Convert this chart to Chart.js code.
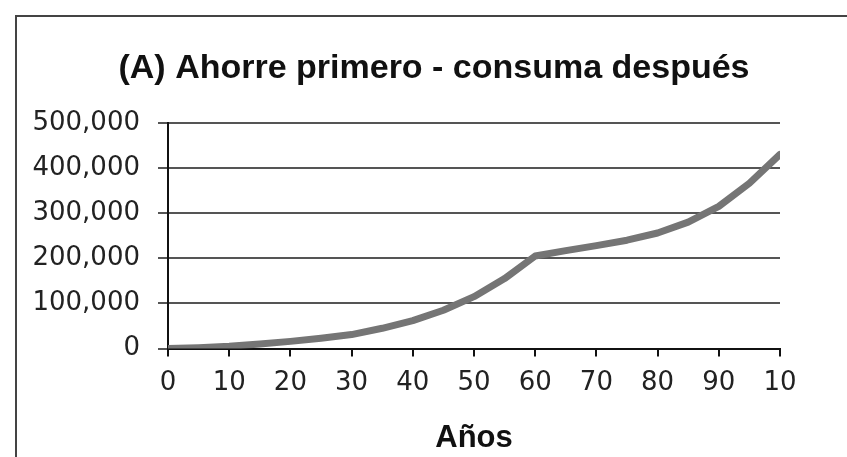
<!DOCTYPE html>
<html>
<head>
<meta charset="utf-8">
<script src="https://cdn.jsdelivr.net/npm/chart.js@4"></script>
<style>
    html, body { margin: 0; padding: 0; background: #fff; }
    #wrap { position: relative; width: 847px; height: 457px; overflow: hidden; }
    #frame { position: absolute; left: 15px; top: 15px; width: 900px; height: 500px; border: 2px solid #444; box-sizing: border-box; }
    canvas { position: absolute; left: 0; top: 0; }
</style>
</head>
<body>
<div id="wrap">
    <div id="frame"></div>
    <canvas id="myChart" width="847" height="457"></canvas>
</div>
<script>
// years on the x axis and the savings
const years = [0, 5, 10, 15, 20, 25, 30, 35, 40, 45, 50, 55, 60, 65, 70, 75, 80, 85, 90, 95, 100];
const savings = [0, 2000, 5000, 10000, 16000, 23000, 31000, 45000, 62000, 85000, 115000, 155000, 205000, 217000, 228000, 240000, 256000, 280000, 315000, 366000, 430000];
// the last label is cut off in the original
const xTickLabels = ['0', '10', '20', '30', '40', '50', '60', '70', '80', '90', '10'];
const yTickValues = [0, 100000, 200000, 300000, 400000, 500000];

const points = years.map((y, i) => ({ x: y, y: savings[i] }));

// y labels stick out left of the narrow y scale, so widen its clip box after layout
const labelRoom = {
    id: 'labelRoom',
    afterLayout(chart) {
        chart.scales.y.left = 15;
    }
};

const chrt = document.getElementById('myChart');
new Chart(chrt, {
    type: 'line',
    data: {
        datasets: [{
            data: points,
            borderColor: '#757575',
            borderWidth: 7,
            pointRadius: 0,
            tension: 0,
            borderCapStyle: 'round',
            borderJoinStyle: 'round'
        }]
    },
    options: {
        responsive: false,
        animation: false,
        // big left padding keeps the title centred like the original
        layout: { padding: { left: 88, right: 67, top: 0, bottom: 0 } },
        plugins: {
            legend: { display: false },
            tooltip: { enabled: false },
            title: {
                display: true,
                text: '(A) Ahorre primero - consuma después',
                color: '#111',
                font: { family: 'Liberation Sans', size: 34, weight: 'bold' },
                padding: { top: 48, bottom: 34 }
            }
        },
        scales: {
            x: {
                type: 'linear',
                min: 0,
                max: 100,
                ticks: {
                    stepSize: 10,
                    color: '#222',
                    padding: 11,
                    maxRotation: 0,
                    font: { family: 'DejaVu Sans', size: 26 },
                    callback: (v) => xTickLabels[Math.round(v / 10)]
                },
                grid: { drawOnChartArea: false, tickLength: 8, color: '#111', lineWidth: 2 },
                border: { display: true, color: '#111', width: 2 },
                title: {
                    display: true,
                    text: 'Años',
                    color: '#111',
                    font: { family: 'Liberation Sans', size: 31, weight: 'bold' },
                    padding: { top: 10, bottom: 0 }
                }
            },
            y: {
                min: 0,
                max: 500000,
                afterBuildTicks: (scale) => {
                    scale.ticks = yTickValues.map(v => ({ value: v }));
                },
                afterFit: (scale) => {
                    scale.width = 80;
                },
                ticks: {
                    color: '#222',
                    padding: 18,
                    font: { family: 'DejaVu Sans', size: 26 },
                    callback: (v) => v.toLocaleString('en-US')
                },
                grid: { color: '#555', lineWidth: 2, tickLength: 10 },
                border: { display: true, color: '#111', width: 2 }
            }
        }
    },
    plugins: [labelRoom]
});
</script>
</body>
</html>
